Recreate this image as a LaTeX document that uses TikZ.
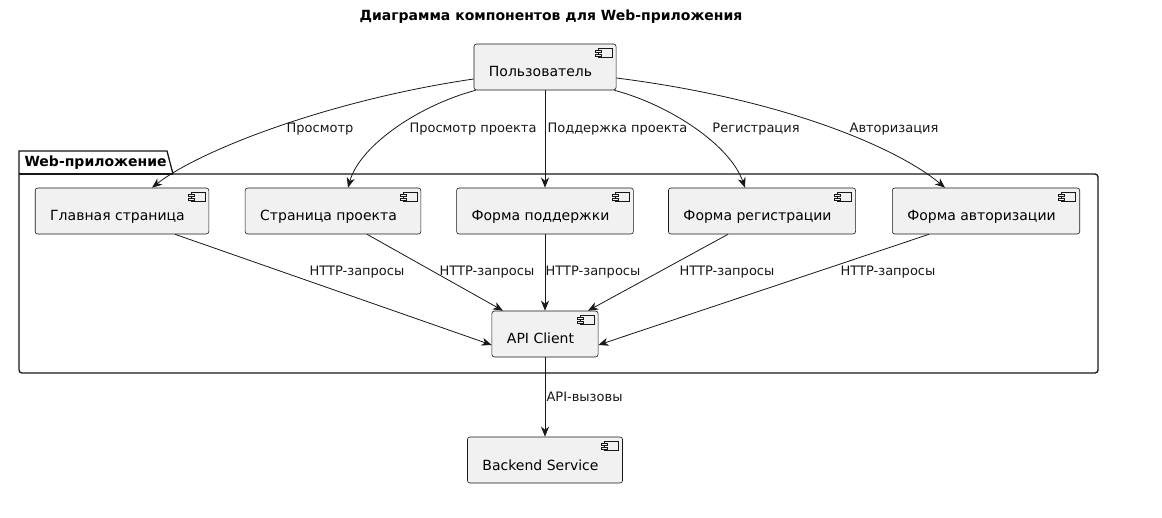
\documentclass[tikz,border=0pt]{standalone}
\usepackage{fontspec}
\setmainfont{DejaVu Sans}
\usetikzlibrary{arrows.meta}
\definecolor{compfill}{HTML}{F1F1F1}
\definecolor{linec}{HTML}{181818}
\tikzset{
  comp/.style={draw=linec, fill=compfill, line width=0.6pt, rounded corners=2.5pt,
    inner xsep=15pt, inner ysep=10pt, text height=23pt, text depth=3pt, minimum height=46pt,
    font=\fontsize{14}{16}\selectfont, execute at end node=\hspace*{9pt},
    path picture={
      \draw[linec, fill=compfill, line width=0.5pt, sharp corners]
        ([xshift=-18pt,yshift=-4pt]path picture bounding box.north east) rectangle ++(14pt,-9pt);
      \draw[linec, fill=compfill, line width=0.5pt, sharp corners]
        ([xshift=-21pt,yshift=-6pt]path picture bounding box.north east) rectangle ++(6pt,-2pt);
      \draw[linec, fill=compfill, line width=0.5pt, sharp corners]
        ([xshift=-21pt,yshift=-10pt]path picture bounding box.north east) rectangle ++(6pt,-2pt);
    }},
  lbl/.style={font=\fontsize{13}{15}\selectfont, text=linec},
  flow/.style={draw=linec, line width=0.8pt, -{Stealth[length=10pt,width=8pt,inset=3pt]}}
}
\begin{document}
\begin{tikzpicture}[x=1pt,y=-1pt]
    \useasboundingbox[fill=white] (0,0) rectangle (1162,518);
    \node[font=\bfseries\fontsize{14}{16}\selectfont] (title) at (551,17) {Диаграмма компонентов для Web-приложения};

    \draw[linec, line width=1.3pt, fill=white] (19,373) -- (19,151) -- (167,151) -- (173,174)
        [rounded corners=3pt] -- (1098,174) -- (1098,373) -- cycle;
    \draw[linec, line width=1.3pt] (19,174) -- (173,174);
    \node[font=\bfseries\fontsize{14}{16}\selectfont, anchor=west] (pkg) at (21,163) {Web-приложение};

    \node[comp] (user) at (545,67) {Пользователь};
    \node[comp] (main) at (122,211) {Главная страница};
    \node[comp] (proj) at (333,211) {Страница проекта};
    \node[comp] (supp) at (545,211) {Форма поддержки};
    \node[comp] (reg) at (762,211) {Форма регистрации};
    \node[comp] (auth) at (986,211) {Форма авторизации};
    \node[comp] (api) at (545,334) {API Client};
    \node[comp] (back) at (545,460) {Backend Service};

    \draw[flow] ([yshift=-12pt]user.west) .. controls (330,100) and (200,150) .. ([xshift=30pt]main.north);
    \draw[flow] ([xshift=2pt]user.south west) .. controls (420,105) and (360,145) .. ([xshift=15pt]proj.north);
    \draw[flow] (user) -- (supp);
    \draw[flow] ([xshift=-2pt]user.south east) .. controls (670,105) and (730,145) .. ([xshift=-17pt]reg.north);
    \draw[flow] ([yshift=-11pt]user.east) .. controls (790,100) and (900,150) .. ([xshift=-41pt]auth.north);

    \node[lbl] (l1) at (320,129) {Просмотр};
    \node[lbl] (l2) at (473,129) {Просмотр проекта};
    \node[lbl, anchor=west] (l3) at (544,129) {Поддержка проекта};
    \node[lbl] (l4) at (756,129) {Регистрация};
    \node[lbl] (l5) at (894,129) {Авторизация};

    \draw[flow] ([xshift=53pt]main.south) -- ([yshift=-11pt]api.west);
    \draw[flow] ([xshift=34pt]proj.south) -- ([xshift=-42pt]api.north);
    \draw[flow] (supp) -- (api);
    \draw[flow] ([xshift=-34pt]reg.south) -- ([xshift=43pt]api.north);
    \draw[flow] ([xshift=-57pt]auth.south) -- ([yshift=-11pt]api.east);
    \draw[flow] (api) -- (back);

    \node[lbl] (h1) at (357,272) {HTTP-запросы};
    \node[lbl] (h2) at (487,272) {HTTP-запросы};
    \node[lbl] (h3) at (593,272) {HTTP-запросы};
    \node[lbl] (h4) at (727,272) {HTTP-запросы};
    \node[lbl] (h5) at (888,272) {HTTP-запросы};
    \node[lbl, anchor=west] (h6) at (543,397) {API-вызовы};
\end{tikzpicture}
\end{document}
